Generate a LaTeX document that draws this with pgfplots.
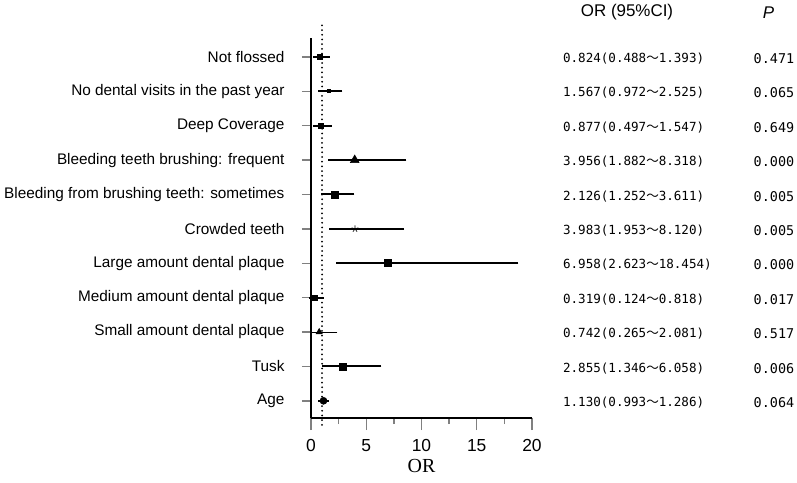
\documentclass[border=0pt]{standalone}
\usepackage{fontspec}
\setmainfont{Liberation Sans}
\newfontfamily\numfont{DejaVu Sans Mono}
\newfontfamily\cjk{Noto Sans CJK SC}
\newfontfamily\serifont{Liberation Serif}
\usepackage{pgfplots}
\pgfplotsset{compat=1.18}

% one row of the forest plot: OR with explicit CI half-widths
\pgfplotsset{
  ci/.style={only marks, black, mark options={solid, line width=0.6bp},
    error bars/x dir=both, error bars/x explicit,
    error bars/error bar style={line width=#1},
    error bars/error mark options={line width=#1, mark size=3.5bp}},
  ci/.default=2bp,
}
\newcommand{\orci}[3]{#1(#2{\cjk ～}#3)}

\begin{document}
\begin{tikzpicture}
\begin{axis}[
  name=ax,
  scale only axis, width=221bp, height=380bp,
  xmin=0, xmax=20, ymin=0.5, ymax=11.55,
  axis lines*=left,
  axis line style={-, line width=1.6bp},
  xtick={0,5,10,15,20},
  minor xtick={2.5,7.5,12.5,17.5},
  ytick={1,...,11},
  yticklabels={Age,Tusk,Small amount dental plaque,Medium amount dental plaque,
    Large amount dental plaque,Crowded teeth,Bleeding from brushing teeth: sometimes,
    Bleeding teeth brushing: frequent,Deep Coverage,No dental visits in the past year,
    Not flossed},
  tick align=outside,
  major tick length=9bp, minor tick length=6bp,
  xtick style={line width=1.4bp, /pgfplots/major tick length=12bp},
  ytick style={line width=1.4bp},
  /pgf/number format/assume math mode=true,
  xticklabel style={font=\fontsize{17.5}{18}\selectfont, yshift=-9bp},
  yticklabel style={font=\fontsize{15.4}{16}\selectfont, xshift=-14bp},
  clip=false,
]
\draw[line width=2bp, line cap=round, dash pattern=on 0bp off 4.7bp]
  (axis cs:1,0.3) -- (axis cs:1,11.93);

\addplot[ci, mark=square*, mark size=2.5bp] coordinates {(0.824,11) += (0.569,0) -= (0.336,0)};
\addplot[ci, mark=square*, mark size=1.5bp] coordinates {(1.567,10) += (0.958,0) -= (0.595,0)};
\addplot[ci, mark=square*, mark size=2.5bp] coordinates {(0.877,9) += (0.670,0) -= (0.380,0)};
\addplot[ci, mark=triangle*, mark size=5bp] coordinates {(3.956,8) += (4.362,0) -= (2.074,0)};
\addplot[ci, mark=square*, mark size=3.5bp] coordinates {(2.126,7) += (1.485,0) -= (0.874,0)};
\addplot[ci=1.4bp, mark=star, mark size=3.5bp] coordinates {(3.983,6) += (4.137,0) -= (2.030,0)};
\addplot[ci, mark=square*, mark size=3.5bp] coordinates {(6.958,5) += (11.496,0) -= (4.335,0)};
\addplot[ci, mark=square*, mark size=2.5bp] coordinates {(0.319,4) += (0.499,0) -= (0.195,0)};
\addplot[ci=1bp, mark=triangle*, mark size=3.5bp] coordinates {(0.742,3) += (1.339,0) -= (0.477,0)};
\addplot[ci, mark=square*, mark size=3.5bp] coordinates {(2.855,2) += (3.203,0) -= (1.509,0)};
\addplot[ci, mark=*, mark size=3.5bp] coordinates {(1.130,1) += (0.156,0) -= (0.137,0)};

% table columns on the right
\node[font=\fontsize{17}{17}\selectfont] at (axis cs:28.6,12.3) {OR (95\%CI)};
\node[font=\fontsize{17}{17}\selectfont\itshape] at (axis cs:41.4,12.3) {P};
\begin{scope}[every node/.style={inner sep=0pt, font=\fontsize{12.6}{13}\numfont}]
\node[anchor=west] at (axis cs:22.8,10.95) {\orci{0.824}{0.488}{1.393}};
\node[anchor=west] at (axis cs:22.8,9.95) {\orci{1.567}{0.972}{2.525}};
\node[anchor=west] at (axis cs:22.8,8.95) {\orci{0.877}{0.497}{1.547}};
\node[anchor=west] at (axis cs:22.8,7.95) {\orci{3.956}{1.882}{8.318}};
\node[anchor=west] at (axis cs:22.8,6.95) {\orci{2.126}{1.252}{3.611}};
\node[anchor=west] at (axis cs:22.8,5.95) {\orci{3.983}{1.953}{8.120}};
\node[anchor=west] at (axis cs:22.8,4.95) {\orci{6.958}{2.623}{18.454}};
\node[anchor=west] at (axis cs:22.8,3.95) {\orci{0.319}{0.124}{0.818}};
\node[anchor=west] at (axis cs:22.8,2.95) {\orci{0.742}{0.265}{2.081}};
\node[anchor=west] at (axis cs:22.8,1.95) {\orci{2.855}{1.346}{6.058}};
\node[anchor=west] at (axis cs:22.8,0.95) {\orci{1.130}{0.993}{1.286}};
\end{scope}
\begin{scope}[every node/.style={inner sep=0pt, font=\fontsize{13.5}{14}\numfont}]
\node at (axis cs:41.9,10.95) {0.471};
\node at (axis cs:41.9,9.95) {0.065};
\node at (axis cs:41.9,8.95) {0.649};
\node at (axis cs:41.9,7.95) {0.000};
\node at (axis cs:41.9,6.95) {0.005};
\node at (axis cs:41.9,5.95) {0.005};
\node at (axis cs:41.9,4.95) {0.000};
\node at (axis cs:41.9,3.95) {0.017};
\node at (axis cs:41.9,2.95) {0.517};
\node at (axis cs:41.9,1.95) {0.006};
\node at (axis cs:41.9,0.95) {0.064};
\end{scope}
\node[font=\fontsize{20}{20}\serifont] at (axis cs:10,0.5) [yshift=-48bp] {OR};
\end{axis}
\pgfresetboundingbox
\path[use as bounding box] ([xshift=-311bp,yshift=-65bp]ax.south west) rectangle ++(797bp,483bp);
\end{tikzpicture}
\end{document}
